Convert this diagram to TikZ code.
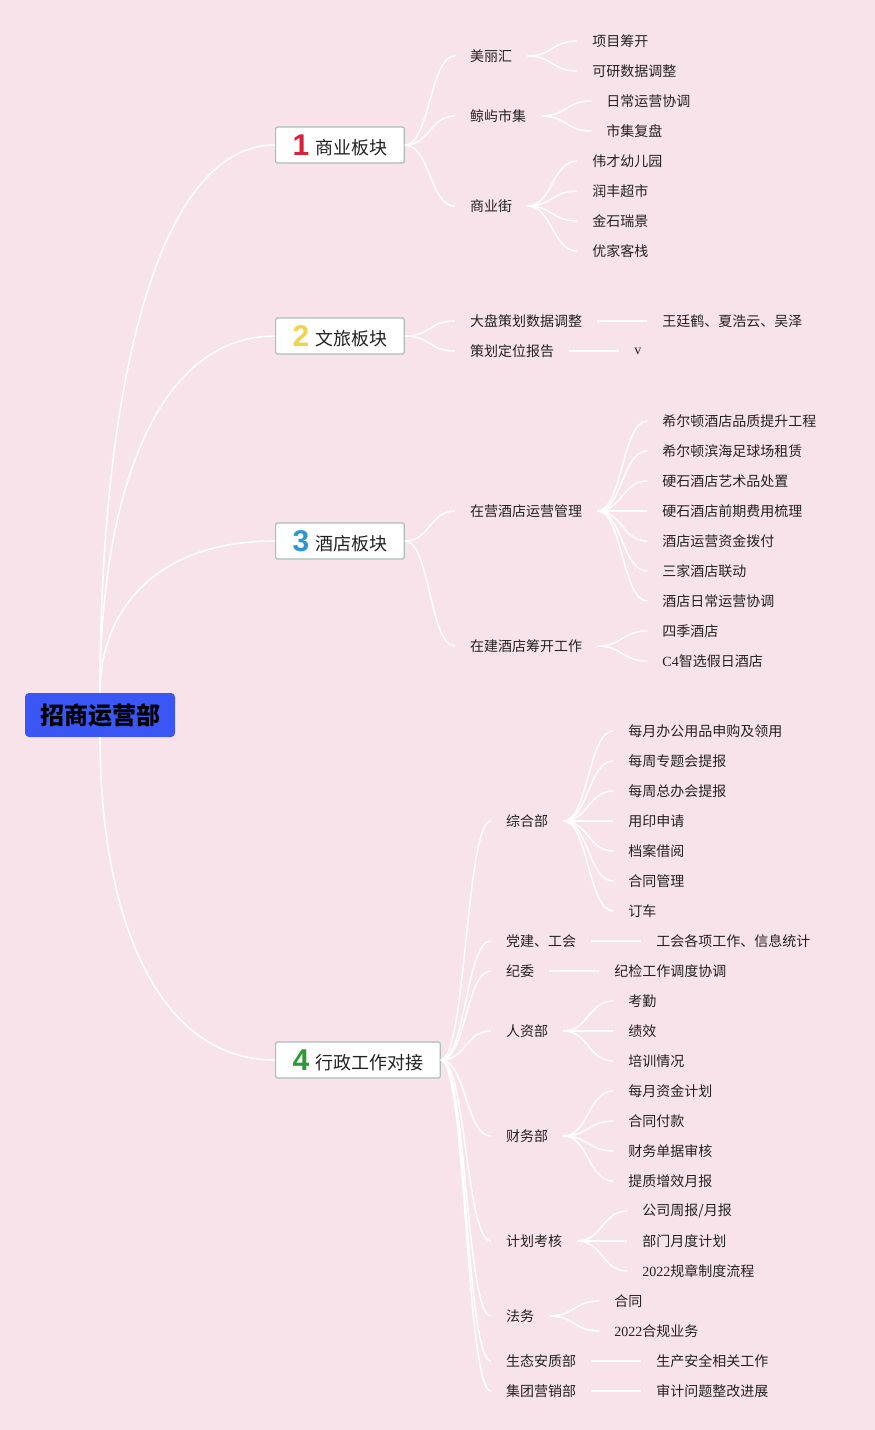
\documentclass[tikz,border=0pt]{standalone}
\usepackage{fontspec}
\setmainfont{Liberation Serif}
\newfontfamily\cjk{Noto Sans CJK SC}
\newfontfamily\digitfont{Liberation Sans}
\usepackage{xcolor}
\usepackage{tikz}
\usetikzlibrary{positioning}
\definecolor{bgpink}{HTML}{F9E3EA}
\definecolor{hubblue}{HTML}{3A56F4}
\definecolor{boxline}{HTML}{A9BFB6}
\definecolor{inkc}{HTML}{222222}
\definecolor{numred}{HTML}{D8213B}
\definecolor{numyellow}{HTML}{F2D34C}
\definecolor{numblue}{HTML}{2B97D6}
\definecolor{numgreen}{HTML}{2B9A35}
\newcommand{\badge}[2]{\raisebox{-1pt}{\digitfont\bfseries\fontsize{30}{30}\selectfont\textcolor{#1}{#2}}\hspace{6pt}}
\newcommand{\lat}[1]{{\rmfamily #1}}

\begin{document}
\begin{tikzpicture}[x=1pt,y=1pt,
  hub/.style={fill=hubblue,rounded corners=4pt,minimum width=150pt,minimum height=44pt,
              font=\cjk\bfseries\fontsize{24}{26}\selectfont,text=black},
  sector/.style={draw=boxline,fill=white,line width=1.2pt,rounded corners=2pt,anchor=west,
                 minimum height=36pt,inner xsep=17pt,inner ysep=1pt,
                 font=\cjk\fontsize{18}{20}\selectfont,text=inkc},
  item/.style={font=\cjk\fontsize{14}{16}\selectfont,text=inkc,inner xsep=15pt,inner ysep=2pt},
  link/.style={draw=white,line width=1.5pt,
               to path={.. controls +(25,0) and +(-25,0) .. (\tikztotarget)}},
  trunk/.style={draw=white,line width=1.6pt},
]
\useasboundingbox (0,0) rectangle (875,-1430);
\fill[bgpink] (0,0) rectangle (875,-1430);

\node[hub] (root) at (100,-715) {招商运营部};

\node[sector] (biz)   at (275,-145)  {\badge{numred}{1}商业板块};
\node[sector] (tour)  at (275,-336)  {\badge{numyellow}{2}文旅板块};
\node[sector] (hotel) at (275,-541)  {\badge{numblue}{3}酒店板块};
\node[sector] (admin) at (275,-1060) {\badge{numgreen}{4}行政工作对接};

\draw[trunk] (root.north) .. controls +(0,290) and +(-122,0) .. (biz.west);
\draw[trunk] (root.north) .. controls +(0,190) and +(-122,0) .. (tour.west);
\draw[trunk] (root.north) .. controls +(0,80) and +(-122,0) .. (hotel.west);
\draw[trunk] (root.south) .. controls +(0,-171) and +(-122,0) .. (admin.west);

% 1 commercial
\node[item,right=50pt of biz,yshift=89pt]  (mlh) {美丽汇};
\node[item,right=50pt of biz,yshift=29pt]  (jyc) {鲸屿市集};
\node[item,right=50pt of biz,yshift=-61pt] (syj) {商业街};
\node[item,right=50pt of mlh,yshift=15pt]  (mlh1) {项目筹开};
\node[item,right=50pt of mlh,yshift=-15pt] (mlh2) {可研数据调整};
\node[item,right=50pt of jyc,yshift=15pt]  (jyc1) {日常运营协调};
\node[item,right=50pt of jyc,yshift=-15pt] (jyc2) {市集复盘};
\node[item,right=50pt of syj,yshift=45pt]  (syj1) {伟才幼儿园};
\node[item,right=50pt of syj,yshift=15pt]  (syj2) {润丰超市};
\node[item,right=50pt of syj,yshift=-15pt] (syj3) {金石瑞景};
\node[item,right=50pt of syj,yshift=-45pt] (syj4) {优家客栈};
\path (biz.east) edge[link] (mlh.west) edge[link] (jyc.west) edge[link] (syj.west);
\path (mlh.east) edge[link] (mlh1.west) edge[link] (mlh2.west);
\path (jyc.east) edge[link] (jyc1.west) edge[link] (jyc2.west);
\path (syj.east) edge[link] (syj1.west) edge[link] (syj2.west)
                 edge[link] (syj3.west) edge[link] (syj4.west);

% 2 tourism
\node[item,right=50pt of tour,yshift=15pt]  (dpc) {大盘策划数据调整};
\node[item,right=50pt of tour,yshift=-15pt] (chd) {策划定位报告};
\node[item,right=50pt of dpc] (dpc1) {王廷鹤、夏浩云、吴泽};
\node[item,right=50pt of chd] (chd1) {\lat{v}};
\path (tour.east) edge[link] (dpc.west) edge[link] (chd.west);
\path (dpc.east) edge[link] (dpc1.west);
\path (chd.east) edge[link] (chd1.west);

% 3 hotels
\node[item,right=50pt of hotel,yshift=30pt]   (zy) {在营酒店运营管理};
\node[item,right=50pt of hotel,yshift=-105pt] (zj) {在建酒店筹开工作};
\node[item,right=50pt of zy,yshift=90pt]  (zy1) {希尔顿酒店品质提升工程};
\node[item,right=50pt of zy,yshift=60pt]  (zy2) {希尔顿滨海足球场租赁};
\node[item,right=50pt of zy,yshift=30pt]  (zy3) {硬石酒店艺术品处置};
\node[item,right=50pt of zy]              (zy4) {硬石酒店前期费用梳理};
\node[item,right=50pt of zy,yshift=-30pt] (zy5) {酒店运营资金拨付};
\node[item,right=50pt of zy,yshift=-60pt] (zy6) {三家酒店联动};
\node[item,right=50pt of zy,yshift=-90pt] (zy7) {酒店日常运营协调};
\node[item,right=50pt of zj,yshift=15pt]  (zj1) {四季酒店};
\node[item,right=50pt of zj,yshift=-15pt] (zj2) {\lat{C4}智选假日酒店};
\path (hotel.east) edge[link] (zy.west) edge[link] (zj.west);
\path (zy.east) edge[link] (zy1.west) edge[link] (zy2.west) edge[link] (zy3.west)
                edge[link] (zy4.west) edge[link] (zy5.west) edge[link] (zy6.west)
                edge[link] (zy7.west);
\path (zj.east) edge[link] (zj1.west) edge[link] (zj2.west);

% 4 administration
\node[item,right=50pt of admin,yshift=239pt]  (zh) {综合部};
\node[item,right=50pt of admin,yshift=119pt]  (dj) {党建、工会};
\node[item,right=50pt of admin,yshift=89pt]   (jw) {纪委};
\node[item,right=50pt of admin,yshift=29pt]   (rz) {人资部};
\node[item,right=50pt of admin,yshift=-76pt]  (cw) {财务部};
\node[item,right=50pt of admin,yshift=-181pt] (jh) {计划考核};
\node[item,right=50pt of admin,yshift=-256pt] (fw) {法务};
\node[item,right=50pt of admin,yshift=-301pt] (st) {生态安质部};
\node[item,right=50pt of admin,yshift=-331pt] (yx) {集团营销部};
\path (admin.east) edge[link] (zh.west) edge[link] (dj.west) edge[link] (jw.west)
                   edge[link] (rz.west) edge[link] (cw.west) edge[link] (jh.west)
                   edge[link] (fw.west) edge[link] (st.west) edge[link] (yx.west);

\node[item,right=50pt of zh,yshift=90pt]  (zh1) {每月办公用品申购及领用};
\node[item,right=50pt of zh,yshift=60pt]  (zh2) {每周专题会提报};
\node[item,right=50pt of zh,yshift=30pt]  (zh3) {每周总办会提报};
\node[item,right=50pt of zh]              (zh4) {用印申请};
\node[item,right=50pt of zh,yshift=-30pt] (zh5) {档案借阅};
\node[item,right=50pt of zh,yshift=-60pt] (zh6) {合同管理};
\node[item,right=50pt of zh,yshift=-90pt] (zh7) {订车};
\path (zh.east) edge[link] (zh1.west) edge[link] (zh2.west) edge[link] (zh3.west)
                edge[link] (zh4.west) edge[link] (zh5.west) edge[link] (zh6.west)
                edge[link] (zh7.west);

\node[item,right=50pt of dj] (dj1) {工会各项工作、信息统计};
\node[item,right=50pt of jw] (jw1) {纪检工作调度协调};
\path (dj.east) edge[link] (dj1.west);
\path (jw.east) edge[link] (jw1.west);

\node[item,right=50pt of rz,yshift=30pt]  (rz1) {考勤};
\node[item,right=50pt of rz]              (rz2) {绩效};
\node[item,right=50pt of rz,yshift=-30pt] (rz3) {培训情况};
\path (rz.east) edge[link] (rz1.west) edge[link] (rz2.west) edge[link] (rz3.west);

\node[item,right=50pt of cw,yshift=45pt]  (cw1) {每月资金计划};
\node[item,right=50pt of cw,yshift=15pt]  (cw2) {合同付款};
\node[item,right=50pt of cw,yshift=-15pt] (cw3) {财务单据审核};
\node[item,right=50pt of cw,yshift=-45pt] (cw4) {提质增效月报};
\path (cw.east) edge[link] (cw1.west) edge[link] (cw2.west)
                edge[link] (cw3.west) edge[link] (cw4.west);

\node[item,right=50pt of jh,yshift=30pt]  (jh1) {公司周报/月报};
\node[item,right=50pt of jh]              (jh2) {部门月度计划};
\node[item,right=50pt of jh,yshift=-30pt] (jh3) {\lat{2022}规章制度流程};
\path (jh.east) edge[link] (jh1.west) edge[link] (jh2.west) edge[link] (jh3.west);

\node[item,right=50pt of fw,yshift=15pt]  (fw1) {合同};
\node[item,right=50pt of fw,yshift=-15pt] (fw2) {\lat{2022}合规业务};
\path (fw.east) edge[link] (fw1.west) edge[link] (fw2.west);

\node[item,right=50pt of st] (st1) {生产安全相关工作};
\node[item,right=50pt of yx] (yx1) {审计问题整改进展};
\path (st.east) edge[link] (st1.west);
\path (yx.east) edge[link] (yx1.west);
\end{tikzpicture}
\end{document}
